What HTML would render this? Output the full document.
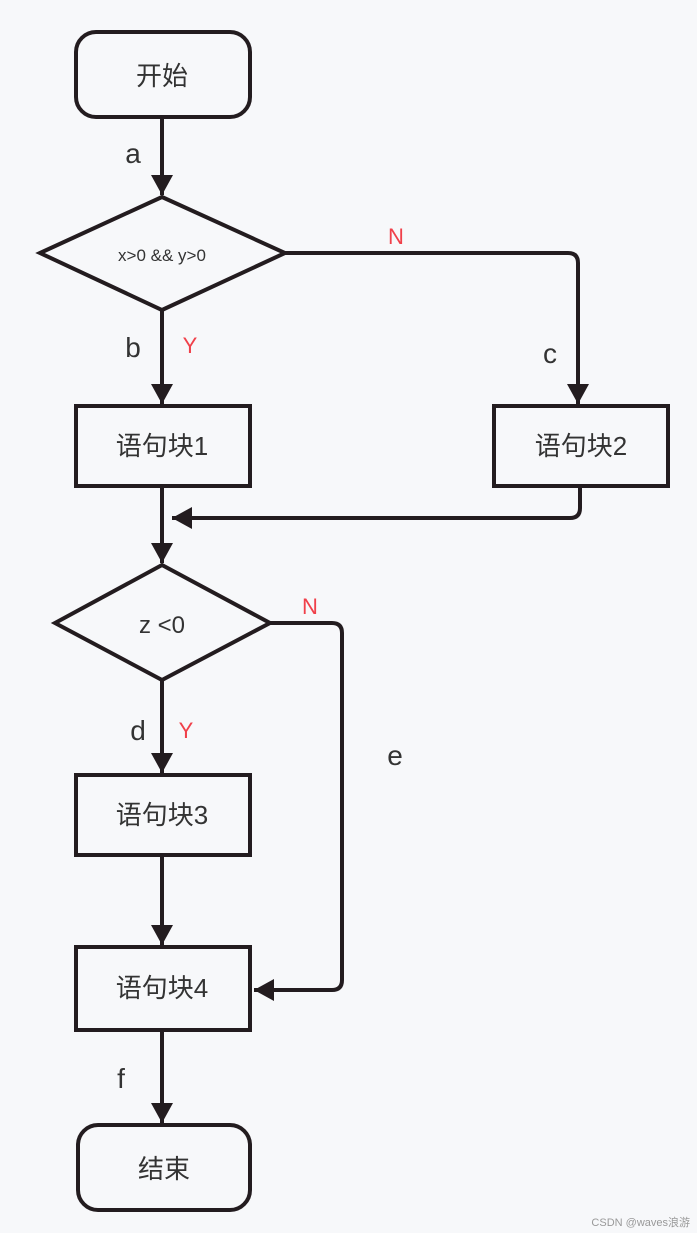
<!DOCTYPE html>
<html><head><meta charset="utf-8"><style>
html,body{margin:0;padding:0;background:#f7f8fa;}
svg{display:block}
text{font-family:"Liberation Sans","Noto Sans CJK SC",sans-serif;}
</style></head><body>
<svg width="697" height="1233" viewBox="0 0 697 1233" xmlns="http://www.w3.org/2000/svg">
<defs><marker id="ar" markerWidth="10" markerHeight="10" refX="9" refY="5" orient="auto" markerUnits="userSpaceOnUse"><path d="M0,0 L10,5 L0,10 Z" fill="#231c1f"/></marker>
<marker id="a2" markerWidth="22" markerHeight="22" refX="20" refY="11" orient="auto" markerUnits="userSpaceOnUse"><path d="M0,0 L20,11 L0,22 Z" fill="#231c1f"/></marker></defs>
<g fill="none" stroke="#231c1f" stroke-width="4">
<rect x="76" y="32" width="174" height="85" rx="20"/>
<polygon points="40,253 162,197 285,253 162,310"/>
<rect x="76" y="406" width="174" height="80"/>
<rect x="494" y="406" width="174" height="80"/>
<polygon points="55,623 162,565 270,623 162,680"/>
<rect x="76" y="775" width="174" height="80"/>
<rect x="76" y="947" width="174" height="83"/>
<rect x="78" y="1125" width="172" height="85" rx="20"/>
<path d="M162,117 V195" marker-end="url(#a2)"/>
<path d="M162,310 V404" marker-end="url(#a2)"/>
<path d="M285,253 H568 Q578,253 578,263 V404" marker-end="url(#a2)"/>
<path d="M580,486 V508 Q580,518 570,518 H172" marker-end="url(#a2)"/>
<path d="M162,486 V563" marker-end="url(#a2)"/>
<path d="M270,623 H332 Q342,623 342,633 V980 Q342,990 332,990 H254" marker-end="url(#a2)"/>
<path d="M162,680 V773" marker-end="url(#a2)"/>
<path d="M162,855 V945" marker-end="url(#a2)"/>
<path d="M162,1030 V1123" marker-end="url(#a2)"/>
</g>
<g fill="#333" font-size="26" text-anchor="middle">
<text x="162" y="85">开始</text>
<text x="162" y="455">语句块1</text>
<text x="581" y="455">语句块2</text>
<text x="162" y="824">语句块3</text>
<text x="162" y="997">语句块4</text>
<text x="164" y="1178">结束</text>
<text x="162" y="261" font-size="17">x&gt;0 &amp;&amp; y&gt;0</text>
<text x="162" y="633" font-size="24">z &lt;0</text>
<text x="133" y="163" font-size="28">a</text>
<text x="133" y="357" font-size="28">b</text>
<text x="550" y="363" font-size="28">c</text>
<text x="138" y="740" font-size="28">d</text>
<text x="395" y="765" font-size="28">e</text>
<text x="121" y="1088" font-size="28">f</text>
</g>
<g fill="#f0404a" font-size="22" text-anchor="middle">
<text x="190" y="353">Y</text>
<text x="396" y="244">N</text>
<text x="310" y="614">N</text>
<text x="186" y="738">Y</text>
</g>
<text x="690" y="1226" text-anchor="end" font-size="11" fill="#999">CSDN @waves浪游</text>
</svg>
</body></html>
